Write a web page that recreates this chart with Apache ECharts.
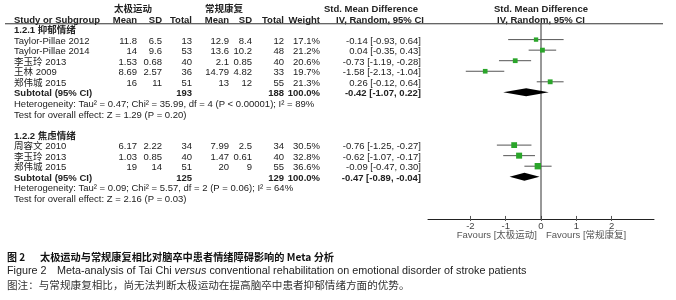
<!DOCTYPE html>
<html>
<head>
<meta charset="utf-8">
<script src="https://cdn.jsdelivr.net/npm/echarts@6/dist/echarts.min.js"></script>
<style>
  html, body { margin: 0; padding: 0; background: #fff; }
  #main { width: 676px; height: 300px; }
</style>
</head>
<body>
<div id="main"></div>
<script>
// 亚组
const groupNames = ["1.2.1 抑郁情绪", "1.2.2 焦虑情绪"];
const studyNames = [
  ["Taylor-Pillae 2012", "Taylor-Pillae 2014", "李玉玲 2013", "王林 2009", "郑伟城 2015"],
  ["周容文 2010", "李玉玲 2013", "郑伟城 2015"],
];
// 太极运动
const taiMean = [[11.8, 14, 1.53, 8.69, 16], [6.17, 1.03, 19]];
const taiSD = [[6.5, 9.6, 0.68, 2.57, 11], [2.22, 0.85, 14]];
const taiTotal = [[13, 53, 40, 36, 51], [34, 40, 51]];
// 常规康复
const conMean = [[12.9, 13.6, 2.1, 14.79, 13], [7.99, 1.47, 20]];
const conSD = [[8.4, 10.2, 0.85, 4.82, 12], [2.5, 0.61, 9]];
const conTotal = [[12, 48, 40, 33, 55], [34, 40, 55]];
const weights = [[17.1, 21.2, 20.6, 19.7, 21.3], [30.5, 32.8, 36.6]];
const smd = [[-0.14, 0.04, -0.73, -1.58, 0.26], [-0.76, -0.62, -0.09]];
const ciLow = [[-0.93, -0.35, -1.19, -2.13, -0.12], [-1.25, -1.07, -0.47]];
const ciHigh = [[0.64, 0.43, -0.28, -1.04, 0.64], [-0.27, -0.17, 0.30]];
// 合并
const subTaiTotal = [193, 125];
const subConTotal = [188, 129];
const subSmd = [-0.42, -0.47];
const subLow = [-1.07, -0.89];
const subHigh = [0.22, -0.04];
const tau2 = ["0.47", "0.09"];
const chi2 = ["35.99", "5.57"];
const dfs = [4, 2];
const hetP = ["< 0.00001", "= 0.06"];
const i2 = [89, 64];
const zVal = ["1.29", "2.16"];
const zP = ["0.20", "0.03"];
const tickValues = [-2, -1, 0, 1, 2];

// 行布局
const ROW0 = 18.5;
const STEP = 10.55;
const AXIS_ROW = 19;
const rowY = (r) => ROW0 + r * STEP;
const TXT = 1.5; // 文字相对行的偏移

const FONT = '"Liberation Sans", Arial, "Noto Sans CJK SC", sans-serif';
const f = (size, bold) => (bold ? "bold " : "") + size + "px " + FONT;
const fmt = (v) => v.toFixed(2);
const ciText = (e, l, h) => fmt(e) + " [" + fmt(l) + ", " + fmt(h) + "]";

const colRight = [137, 162, 192, 229, 252, 284, 320];
const CI_RIGHT = 421;

const graphics = [];
const txt = (text, x, r, align, bold, color, size) => {
  graphics.push({
    type: "text",
    silent: true,
    style: {
      text: text,
      x: x,
      y: rowY(r) + TXT,
      align: align || "left",
      verticalAlign: "middle",
      font: f(size || 9.5, bold),
      fill: color || "#222",
    },
  });
};

// 表头
txt("太极运动", 133, -1, "center", true);
txt("常规康复", 224, -1, "center", true);
txt("Std. Mean Difference", 371, -1, "center", true);
txt("Std. Mean Difference", 541, -1, "center", true);
txt("Study or Subgroup", 14, 0, "left", true);
["Mean", "SD", "Total", "Mean", "SD", "Total", "Weight"].forEach((h, i) => {
  txt(h, colRight[i], 0, "right", true);
});
txt("IV, Random, 95% CI", 380, 0, "center", true);
txt("IV, Random, 95% CI", 541, 0, "center", true);
graphics.push({
  type: "line",
  silent: true,
  shape: { x1: 5, y1: rowY(0.5), x2: 663, y2: rowY(0.5) },
  style: { stroke: "#333", lineWidth: 1 },
});

const ciLines = [];
const squares = [];
const diamonds = [];
let base = 1;
groupNames.forEach((g, gi) => {
  txt(g, 14, base, "left", true);
  const n = studyNames[gi].length;
  for (let i = 0; i < n; i++) {
    const r = base + 1 + i;
    txt(studyNames[gi][i], 14, r);
    const cells = [
      String(taiMean[gi][i]), String(taiSD[gi][i]), String(taiTotal[gi][i]),
      String(conMean[gi][i]), String(conSD[gi][i]), String(conTotal[gi][i]),
      weights[gi][i].toFixed(1) + "%",
    ];
    cells.forEach((c, ci) => txt(c, colRight[ci], r, "right"));
    txt(ciText(smd[gi][i], ciLow[gi][i], ciHigh[gi][i]), CI_RIGHT, r, "right");
    ciLines.push([ciLow[gi][i], ciHigh[gi][i], r]);
    squares.push([smd[gi][i], r, weights[gi][i]]);
  }
  const rs = base + 1 + n;
  txt("Subtotal (95% CI)", 14, rs, "left", true);
  txt(String(subTaiTotal[gi]), colRight[2], rs, "right", true);
  txt(String(subConTotal[gi]), colRight[5], rs, "right", true);
  txt("100.0%", colRight[6], rs, "right", true);
  txt(ciText(subSmd[gi], subLow[gi], subHigh[gi]), CI_RIGHT, rs, "right", true);
  diamonds.push([subLow[gi], subSmd[gi], subHigh[gi], rs]);
  txt("Heterogeneity: Tau² = " + tau2[gi] + "; Chi² = " + chi2[gi] + ", df = " + dfs[gi] +
      " (P " + hetP[gi] + "); I² = " + i2[gi] + "%", 14, rs + 1);
  txt("Test for overall effect: Z = " + zVal[gi] + " (P = " + zP[gi] + ")", 14, rs + 2);
  base = rs + 4;
});

// 横轴下方说明
const axisY = rowY(AXIS_ROW);
graphics.push({
  type: "text", silent: true,
  style: { text: "Favours [太极运动]", x: 537, y: axisY + 16, align: "right",
    verticalAlign: "middle", font: f(9.5), fill: "#555" },
});
graphics.push({
  type: "text", silent: true,
  style: { text: "Favours [常规康复]", x: 546, y: axisY + 16, align: "left",
    verticalAlign: "middle", font: f(9.5), fill: "#555" },
});

// 图题
const CAP = '"Noto Sans CJK SC", "Liberation Sans", sans-serif';
graphics.push({
  type: "text", silent: true,
  style: { text: "图 2", x: 7, y: 257, verticalAlign: "middle", font: "bold 10px " + CAP, fill: "#111" },
});
graphics.push({
  type: "text", silent: true,
  style: { text: "太极运动与常规康复相比对脑卒中患者情绪障碍影响的 Meta 分析", x: 40, y: 257,
    verticalAlign: "middle", font: "bold 10.2px " + CAP, fill: "#111" },
});
graphics.push({
  type: "text", silent: true,
  style: { text: "Figure 2", x: 7, y: 271, verticalAlign: "middle", font: f(10.8), fill: "#222" },
});
graphics.push({
  type: "text", silent: true,
  style: {
    text: "{n|Meta-analysis of Tai Chi }{i|versus}{n| conventional rehabilitation on emotional disorder of stroke patients}",
    x: 57, y: 271, verticalAlign: "middle", font: f(10.8), fill: "#222",
    rich: {
      n: { font: f(10.8), fill: "#222" },
      i: { font: "italic 10.8px " + FONT, fill: "#222" },
    },
  },
});
graphics.push({
  type: "text", silent: true,
  style: { text: "图注：与常规康复相比，尚无法判断太极运动在提高脑卒中患者抑郁情绪方面的优势。", x: 7, y: 285,
    verticalAlign: "middle", font: "10.6px " + CAP, fill: "#333" },
});

const gridBox = {
  left: 428,
  width: 226,
  top: rowY(0),
  height: rowY(AXIS_ROW) - rowY(0),
  containLabel: false,
};

const chart = echarts.init(document.getElementById("main"), null, { renderer: "canvas" });
chart.setOption({
  animation: false,
  backgroundColor: "#fff",
  grid: [Object.assign({}, gridBox), Object.assign({}, gridBox)],
  xAxis: [
    {
      type: "value",
      gridIndex: 0,
      min: -3.2,
      max: 3.2,
      position: "bottom",
      axisLine: { onZero: false, lineStyle: { color: "#222", width: 1 } },
      axisTick: { customValues: tickValues, length: 2, lineStyle: { color: "#555" } },
      axisLabel: { customValues: tickValues, margin: 3, fontSize: 9.5, color: "#444", fontFamily: FONT },
      splitLine: { show: false },
    },
    {
      // 轴线上方的刻度
      type: "value",
      gridIndex: 1,
      min: -3.2,
      max: 3.2,
      position: "bottom",
      axisLine: { show: false, onZero: false },
      axisTick: { inside: true, customValues: tickValues, length: 3, lineStyle: { color: "#555" } },
      axisLabel: { show: false },
      splitLine: { show: false },
    },
  ],
  yAxis: [
    { type: "value", gridIndex: 0, inverse: true, min: 0, max: AXIS_ROW, show: false },
    { type: "value", gridIndex: 1, inverse: true, min: 0, max: AXIS_ROW, show: false },
  ],
  series: [
    {
      type: "line",
      data: [[0, 0.5], [0, AXIS_ROW]],
      symbol: "none",
      lineStyle: { color: "#333", width: 1 },
      z: 1,
    },
    {
      type: "custom",
      data: ciLines,
      z: 2,
      renderItem: (params, api) => {
        const a = api.coord([api.value(0), api.value(2)]);
        const b = api.coord([api.value(1), api.value(2)]);
        return {
          type: "line",
          shape: { x1: a[0], y1: a[1], x2: b[0], y2: b[1] },
          style: { stroke: "#555", lineWidth: 1 },
        };
      },
    },
    {
      type: "scatter",
      data: squares,
      symbol: "rect",
      symbolSize: (v) => Math.sqrt(v[2]) * 1.05,
      itemStyle: { color: "#2aa52a", opacity: 1 },
      z: 3,
    },
    {
      type: "custom",
      data: diamonds,
      z: 3,
      renderItem: (params, api) => {
        const r = api.value(3);
        const l = api.coord([api.value(0), r]);
        const c = api.coord([api.value(1), r]);
        const h = api.coord([api.value(2), r]);
        return {
          type: "polygon",
          shape: { points: [[l[0], l[1]], [c[0], c[1] - 4], [h[0], h[1]], [c[0], c[1] + 4]] },
          style: { fill: "#000" },
        };
      },
    },
  ],
  graphic: graphics,
});
</script>
</body>
</html>
